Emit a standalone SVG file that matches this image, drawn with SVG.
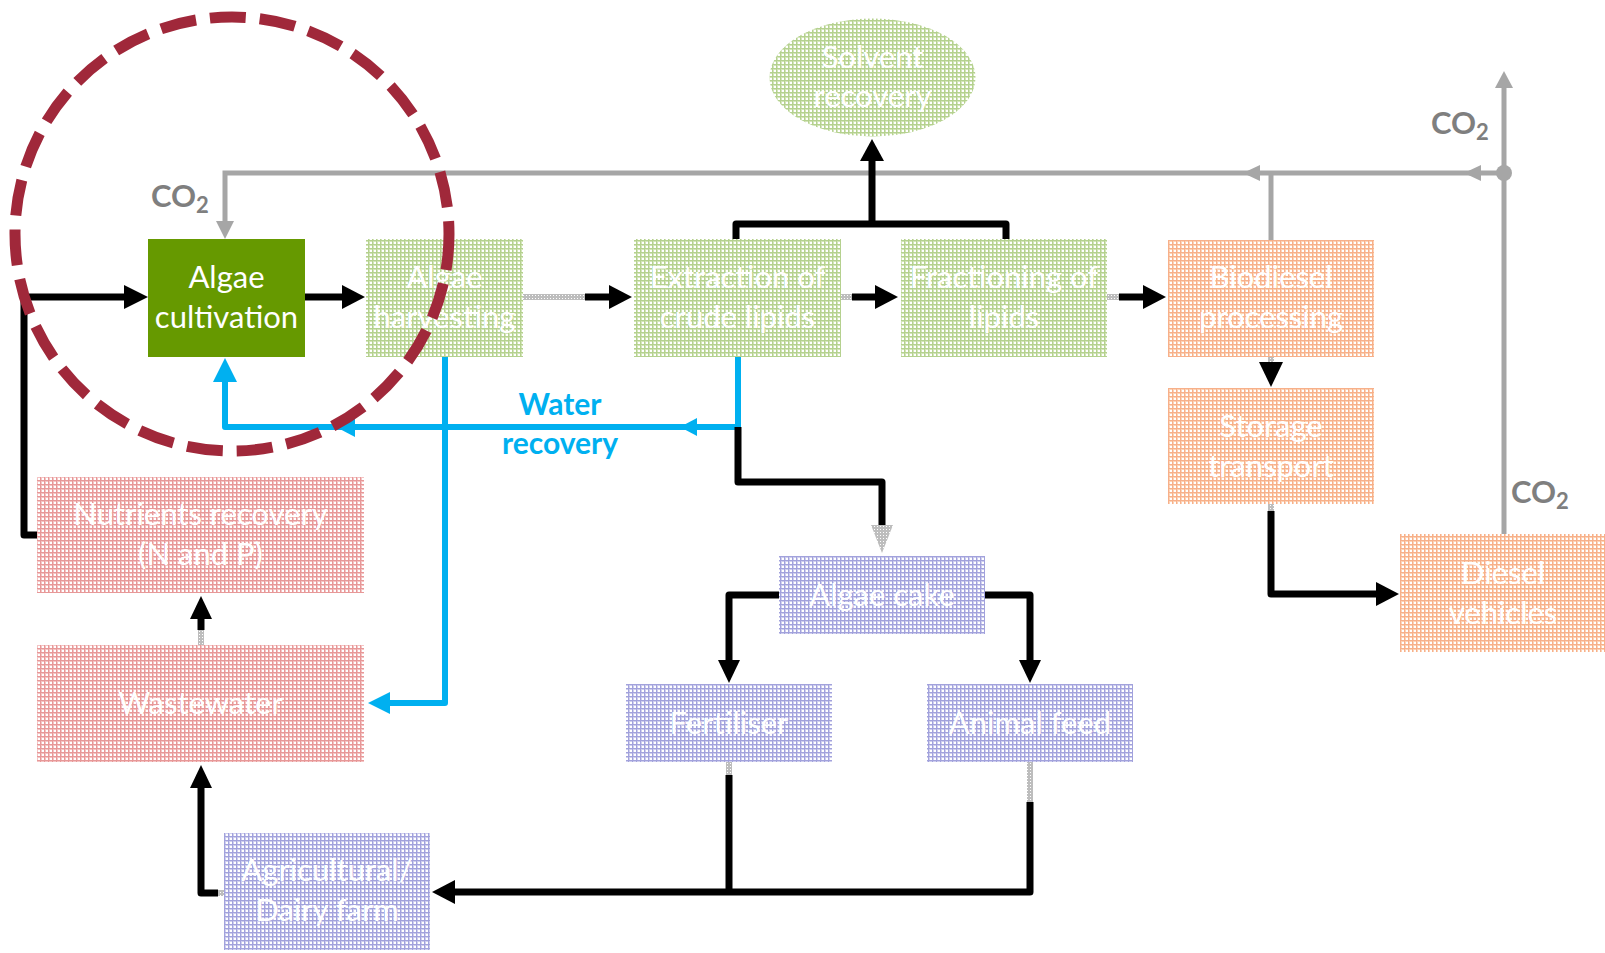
<svg xmlns="http://www.w3.org/2000/svg" width="1605" height="953" viewBox="0 0 1605 953">
<defs>
<pattern id="pG" width="4" height="4" patternUnits="userSpaceOnUse"><rect width="4" height="4" fill="#d3e5b9"/><rect width="4" height="1" fill="#b5d18f"/><rect width="1" height="4" fill="#b5d18f"/><rect x="2" y="2" width="2" height="2" fill="#ffffff"/></pattern>
<pattern id="pO" width="4" height="4" patternUnits="userSpaceOnUse"><rect width="4" height="4" fill="#fcd3b7"/><rect width="4" height="1" fill="#f7b08a"/><rect width="1" height="4" fill="#f7b08a"/><rect x="2" y="2" width="2" height="2" fill="#ffffff"/></pattern>
<pattern id="pR" width="4" height="4" patternUnits="userSpaceOnUse"><rect width="4" height="4" fill="#f4c4c4"/><rect width="4" height="1" fill="#e79898"/><rect width="1" height="4" fill="#e79898"/><rect x="2" y="2" width="2" height="2" fill="#ffffff"/></pattern>
<pattern id="pB" width="4" height="4" patternUnits="userSpaceOnUse"><rect width="4" height="4" fill="#cfcfee"/><rect width="4" height="1" fill="#a2a2dc"/><rect width="1" height="4" fill="#a2a2dc"/><rect x="2" y="2" width="2" height="2" fill="#ffffff"/></pattern>
<pattern id="pK" width="3" height="3" patternUnits="userSpaceOnUse"><rect width="3" height="3" fill="#bdbdbd"/><rect x="1" y="1" width="1" height="1" fill="#ffffff"/></pattern>
</defs>
<style>
.box{stroke:none}
.t{font-family:"Lato","Open Sans",sans-serif;font-size:31px;fill:#ffffff;text-anchor:middle}
.co{font-family:"Lato","Open Sans",sans-serif;font-size:31px;font-weight:bold;fill:#7f7f7f}
.w{font-family:"Lato","Open Sans",sans-serif;font-size:30px;font-weight:bold;fill:#00b0f0;text-anchor:middle}
.k{fill:none;stroke:#000;stroke-width:7;stroke-linejoin:round}
.g{fill:none;stroke:#a6a6a6;stroke-width:5}
.b{fill:none;stroke:#00b0f0;stroke-width:6;stroke-linejoin:round}
.d{fill:none;stroke:url(#pK);stroke-width:6}
.kh{fill:#000}
.gh{fill:#a6a6a6}
.bh{fill:#00b0f0}
</style>

<g id="connectors">
<!-- gray CO2 -->
<path class="g" d="M1504 534 V86"/>
<polygon class="gh" points="1504,71 1495,88 1513,88"/>
<path class="g" d="M1504 173 H225 V222"/>
<polygon class="gh" points="225,239 216,221 234,221"/>
<path class="g" d="M1271 240 V173"/>
<polygon class="gh" points="1464,173 1481,165 1481,181"/>
<polygon class="gh" points="1243,173 1260,165 1260,181"/>
<circle class="gh" cx="1504" cy="173" r="8"/>

<!-- blue water -->
<path class="b" d="M738 357 V427 H225 V380"/>
<polygon class="bh" points="225,358 213,382 237,382"/>
<polygon class="bh" points="680,427 697,418 697,436"/>
<polygon class="bh" points="336,427 355,417 355,437"/>
<path class="b" d="M445 357 V703 H387"/>
<polygon class="bh" points="368,703 390,692 390,714"/>

<!-- black flows -->
<path class="k" d="M37 535 H24 V297 H126"/>
<polygon class="kh" points="148,297 124,285 124,309"/>
<path class="k" d="M305 297 H345"/>
<polygon class="kh" points="365,297 342,285 342,309"/>
<line class="d" x1="523" y1="297" x2="586" y2="297"/>
<path class="k" d="M585 297 H611"/>
<polygon class="kh" points="632,297 609,285 609,309"/>
<line class="d" x1="841" y1="297" x2="853" y2="297"/>
<path class="k" d="M852 297 H878"/>
<polygon class="kh" points="898,297 875,285 875,309"/>
<line class="d" x1="1107" y1="297" x2="1120" y2="297"/>
<path class="k" d="M1119 297 H1145"/>
<polygon class="kh" points="1166,297 1143,285 1143,309"/>
<path class="k" d="M736 239 V224 H1006 V239"/>
<path class="k" d="M872 224 V158"/>
<polygon class="kh" points="872,139 860,161 884,161"/>
<line class="d" x1="1271" y1="357" x2="1271" y2="363"/>
<polygon class="kh" points="1271,387 1259,362 1283,362"/>
<line class="d" x1="1271" y1="504" x2="1271" y2="512"/>
<path class="k" d="M1271 511 V594 H1378"/>
<polygon class="kh" points="1399,594 1376,582 1376,606"/>
<path class="k" d="M738 427 V482 H882 V526"/>
<polygon fill="url(#pK)" points="871,525 893,525 882,553"/>
<path class="k" d="M779 595 H729 V662"/>
<polygon class="kh" points="729,683 718,660 740,660"/>
<path class="k" d="M985 595 H1030 V662"/>
<polygon class="kh" points="1030,683 1019,660 1041,660"/>
<line class="d" x1="729" y1="762" x2="729" y2="776"/>
<path class="k" d="M729 775 V892"/>
<line class="d" x1="1030" y1="762" x2="1030" y2="803"/>
<path class="k" d="M1030 802 V892 H452"/>
<polygon class="kh" points="432,892 455,880 455,904"/>
<line class="d" x1="224" y1="893" x2="216" y2="893"/>
<path class="k" d="M218 893 H201 V785"/>
<polygon class="kh" points="201,765 190,788 212,788"/>
<line class="d" x1="201" y1="645" x2="201" y2="628"/>
<path class="k" d="M201 630 V616"/>
<polygon class="kh" points="201,596 190,619 212,619"/>
</g>

<g id="n-cultivation"><rect x="148" y="239" width="157" height="118" fill="#669900"/><text class="t" x="226.5" y="288">Algae</text><text class="t" x="226.5" y="328">cultivation</text></g>
<g id="n-harvesting"><rect class="box" x="366" y="239" width="157" height="118" fill="url(#pG)"/><text class="t" x="444.5" y="288">Algae</text><text class="t" x="444.5" y="328">harvesting</text></g>
<g id="n-extraction"><rect class="box" x="634" y="239" width="207" height="118" fill="url(#pG)"/><text class="t" x="737.5" y="288">Extraction of</text><text class="t" x="737.5" y="328">crude lipids</text></g>
<g id="n-fractioning"><rect class="box" x="901" y="239" width="206" height="118" fill="url(#pG)"/><text class="t" x="1004" y="288">Fractioning  of</text><text class="t" x="1004" y="328">lipids</text></g>
<g id="n-solvent"><ellipse cx="872.5" cy="77.5" rx="103" ry="59" fill="url(#pG)"/><text class="t" x="872.5" y="68">Solvent</text><text class="t" x="872.5" y="107">recovery</text></g>
<g id="n-biodiesel"><rect class="box" x="1168" y="240" width="206" height="117" fill="url(#pO)"/><text class="t" x="1271" y="288">Biodiesel</text><text class="t" x="1271" y="328">processing</text></g>
<g id="n-storage"><rect class="box" x="1168" y="388" width="206" height="116" fill="url(#pO)"/><text class="t" x="1271" y="437">Storage</text><text class="t" x="1271" y="477">transport</text></g>
<g id="n-diesel"><rect class="box" x="1400" y="534" width="206" height="118" fill="url(#pO)"/><text class="t" x="1503" y="584">Diesel</text><text class="t" x="1503" y="624">vehicles</text></g>
<g id="n-nutrients"><rect class="box" x="37" y="477" width="327" height="116" fill="url(#pR)"/><text class="t" x="200.5" y="525">Nutrients recovery</text><text class="t" x="200.5" y="565">(N and P)</text></g>
<g id="n-wastewater"><rect class="box" x="37" y="645" width="327" height="117" fill="url(#pR)"/><text class="t" x="200.5" y="714">Wastewater</text></g>
<g id="n-farm"><rect class="box" x="224" y="833" width="206" height="117" fill="url(#pB)"/><text class="t" x="327" y="881">Agricultural/</text><text class="t" x="327" y="921">Dairy farm</text></g>
<g id="n-cake"><rect class="box" x="779" y="556" width="206" height="78" fill="url(#pB)"/><text class="t" x="882" y="606">Algae cake</text></g>
<g id="n-fertiliser"><rect class="box" x="626" y="684" width="206" height="78" fill="url(#pB)"/><text class="t" x="729" y="734">Fertiliser</text></g>
<g id="n-feed"><rect class="box" x="927" y="684" width="206" height="78" fill="url(#pB)"/><text class="t" x="1030" y="734">Animal feed</text></g>

<g id="labels">
<text class="co" x="151" y="207">CO<tspan font-size="22" dy="6">2</tspan></text>
<text class="co" x="1431" y="134">CO<tspan font-size="22" dy="6">2</tspan></text>
<text class="co" x="1511" y="503">CO<tspan font-size="22" dy="6">2</tspan></text>
<text class="w" x="560" y="415">Water</text>
<text class="w" x="560" y="454">recovery</text>
</g>

<g id="highlight"><circle cx="232" cy="234" r="217" fill="none" stroke="#a0283a" stroke-width="11" stroke-dasharray="36 14"/></g>
</svg>
